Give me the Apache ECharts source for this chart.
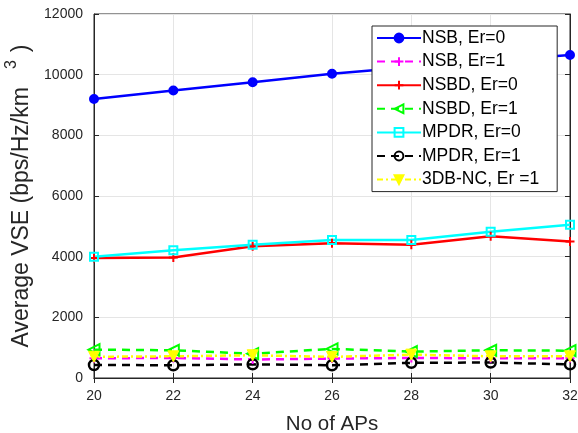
<!DOCTYPE html>
<html><head><meta charset="utf-8">
<script src="https://cdn.jsdelivr.net/npm/echarts@6/dist/echarts.min.js"></script>
<style>html,body{margin:0;padding:0;background:#fff}#c{width:578px;height:433px}</style>
</head><body><div id="c"></div>
<script>
const aps = [20, 22, 24, 26, 28, 30, 32];
const nsbEr0 = [9200, 9480, 9750, 10030, 10250, 10450, 10650];
const nsbEr1 = [650, 660, 610, 640, 660, 650, 650];
const nsbdEr0 = [3960, 3970, 4340, 4440, 4390, 4670, 4500];
const nsbdEr1 = [935, 915, 800, 960, 870, 915, 900];
const mpdrEr0 = [4000, 4210, 4395, 4550, 4550, 4820, 5050];
const mpdrEr1 = [430, 420, 450, 420, 500, 510, 450];
const db3nc = [700, 715, 750, 695, 770, 715, 715];
const yTicks = [0, 2000, 4000, 6000, 8000, 10000, 12000];

const pair = arr => aps.map((x, i) => [x, arr[i]]);
const plus = 'path://M-1,0L1,0M0,-1L0,1';
const font = 'Liberation Sans, Arial, sans-serif';

function s(name, data, color, type, symbol, opts) {
  return Object.assign({
    name, type: 'line', data: pair(data), symbol, symbolSize: 8,
    lineStyle: { color, width: 2.5, type },
    itemStyle: { color, borderColor: color, borderWidth: 2 },
    emphasis: { disabled: true }, animation: false, z: 3
  }, opts || {});
}

const chart = echarts.init(document.getElementById('c'));
chart.setOption({
  backgroundColor: '#fff',
  animation: false,
  grid: { left: 94, right: 8, top: 14, bottom: 55, show: true, borderColor: '#262626', borderWidth: 1,
    containLabel: false, outerBoundsMode: 'none' },
  xAxis: [{
    type: 'value', min: 20, max: 32, interval: 2,
    name: 'No of APs', nameLocation: 'middle', nameGap: 36,
    nameTextStyle: { fontSize: 20.5, color: '#262626', fontFamily: font },
    axisLine: { lineStyle: { color: '#262626' } },
    axisTick: { inside: true, length: 5, lineStyle: { color: '#262626' } },
    axisLabel: { fontSize: 14, color: '#262626', fontFamily: font, margin: 11 },
    splitLine: { show: true, lineStyle: { color: '#e5e5e5', width: 1 } }
  }, {
    type: 'value', min: 20, max: 32, interval: 2, position: 'top',
    axisLine: { lineStyle: { color: '#262626' } },
    axisTick: { inside: true, length: 5, lineStyle: { color: '#262626' } },
    axisLabel: { show: false }, splitLine: { show: false }
  }],
  yAxis: [{
    type: 'value', min: 0, max: 12000, interval: 2000,
    name: 'Average VSE (bps/Hz/km{sup|3})', nameLocation: 'middle', nameGap: 47,
    nameTextStyle: { fontSize: 23, color: '#262626', fontFamily: font,
      rich: { sup: { fontSize: 16, color: '#262626', fontFamily: font, padding: [0, 8, 20, 18] } } },
    axisLine: { lineStyle: { color: '#262626' } },
    axisTick: { inside: true, length: 5, lineStyle: { color: '#262626' } },
    axisLabel: { fontSize: 14, color: '#262626', fontFamily: font, margin: 11,
      formatter: v => yTicks.includes(v) ? String(v) : '' },
    splitLine: { show: true, lineStyle: { color: '#e5e5e5', width: 1 } }
  }, {
    type: 'value', min: 0, max: 12000, interval: 2000, position: 'right',
    axisLine: { show: true, lineStyle: { color: '#262626' } },
    axisTick: { show: true, inside: true, length: 5, lineStyle: { color: '#262626' } },
    axisLabel: { show: false }, splitLine: { show: false }
  }],
  legend: {
    orient: 'vertical', left: 372, top: 26,
    backgroundColor: '#fff', borderColor: '#262626', borderWidth: 1,
    padding: [3, 18, 3, 4], itemGap: 5.6, itemWidth: 44, itemHeight: 11,
    textStyle: { fontSize: 17.5, lineHeight: 16, color: '#000', fontFamily: font, padding: [0, 0, 0, -4] },
    data: ['NSB, Er=0', 'NSB, Er=1', 'NSBD, Er=0', 'NSBD, Er=1', 'MPDR, Er=0', 'MPDR, Er=1', '3DB-NC, Er =1']
  },
  series: [
    s('NSB, Er=0', nsbEr0, '#0000ff', 'solid', 'circle', { symbolSize: 8 }),
    s('NSB, Er=1', nsbEr1, '#ff00ff', [8, 6], plus, { symbolSize: 9 }),
    s('NSBD, Er=0', nsbdEr0, '#ff0000', 'solid', plus, { symbolSize: 9 }),
    s('NSBD, Er=1', nsbdEr1, '#00ff00', [8, 6], 'triangle', { symbolSize: 11, symbolRotate: 90,
      itemStyle: { color: 'rgba(255,255,255,0)', borderColor: '#00ff00', borderWidth: 2 } }),
    s('MPDR, Er=0', mpdrEr0, '#00ffff', 'solid', 'rect', { symbolSize: 8,
      itemStyle: { color: 'rgba(255,255,255,0)', borderColor: '#00ffff', borderWidth: 2 } }),
    s('MPDR, Er=1', mpdrEr1, '#000000', [8, 6], 'circle', { symbolSize: 10,
      itemStyle: { color: 'rgba(255,255,255,0)', borderColor: '#000000', borderWidth: 2.5 } }),
    s('3DB-NC, Er =1', db3nc, '#ffff00', [6, 3, 2, 3], 'triangle', { symbolSize: 11, symbolRotate: 180,
      itemStyle: { color: '#ffff00', borderColor: '#ffff00', borderWidth: 1 } })
  ]
});
</script></body></html>
